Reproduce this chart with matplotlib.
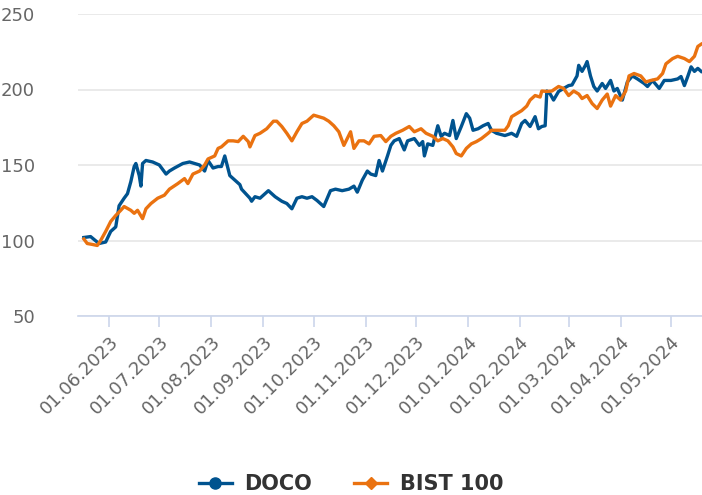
import matplotlib
matplotlib.use("Agg")
import matplotlib.pyplot as plt
import matplotlib.dates as mdates
from matplotlib.lines import Line2D
import pandas as pd

# ---- data (index, start = 100) ----
doco_dates = [
    "2023-05-17", "2023-05-21", "2023-05-26", "2023-05-30", "2023-06-02", "2023-06-05",
    "2023-06-07", "2023-06-10", "2023-06-12", "2023-06-14", "2023-06-16", "2023-06-17",
    "2023-06-19", "2023-06-20", "2023-06-21", "2023-06-23", "2023-06-27", "2023-07-01",
    "2023-07-05", "2023-07-07", "2023-07-10", "2023-07-15", "2023-07-19", "2023-07-22",
    "2023-07-25", "2023-07-28", "2023-07-30", "2023-08-02", "2023-08-05", "2023-08-07",
    "2023-08-09", "2023-08-12", "2023-08-15", "2023-08-18", "2023-08-19", "2023-08-24",
    "2023-08-25", "2023-08-27", "2023-08-30", "2023-09-04", "2023-09-08", "2023-09-12",
    "2023-09-15", "2023-09-18", "2023-09-21", "2023-09-24", "2023-09-27", "2023-09-30",
    "2023-10-03", "2023-10-07", "2023-10-11", "2023-10-14", "2023-10-18", "2023-10-22",
    "2023-10-25", "2023-10-27", "2023-10-30", "2023-11-02", "2023-11-04", "2023-11-07",
    "2023-11-09", "2023-11-11", "2023-11-14", "2023-11-16", "2023-11-18", "2023-11-21",
    "2023-11-24", "2023-11-26", "2023-11-30", "2023-12-03", "2023-12-05", "2023-12-06",
    "2023-12-08", "2023-12-11", "2023-12-14", "2023-12-16", "2023-12-18", "2023-12-21",
    "2023-12-23", "2023-12-25", "2023-12-28", "2023-12-31", "2024-01-02", "2024-01-04",
    "2024-01-07", "2024-01-10", "2024-01-13", "2024-01-15", "2024-01-18", "2024-01-23",
    "2024-01-27", "2024-01-30", "2024-02-02", "2024-02-04", "2024-02-07", "2024-02-10",
    "2024-02-12", "2024-02-14", "2024-02-16", "2024-02-17", "2024-02-19", "2024-02-21",
    "2024-02-24", "2024-02-27", "2024-03-01", "2024-03-03", "2024-03-06", "2024-03-07",
    "2024-03-09", "2024-03-11", "2024-03-12", "2024-03-14", "2024-03-16", "2024-03-18",
    "2024-03-21", "2024-03-23", "2024-03-26", "2024-03-28", "2024-03-30", "2024-04-02",
    "2024-04-05", "2024-04-08", "2024-04-11", "2024-04-15", "2024-04-17", "2024-04-20",
    "2024-04-24", "2024-04-27", "2024-05-01", "2024-05-05", "2024-05-07", "2024-05-09",
    "2024-05-11", "2024-05-13", "2024-05-15", "2024-05-17", "2024-05-19",
]
doco_vals = [
    102, 102.6, 98, 99, 106, 109,
    123, 128, 131, 139, 149, 151,
    143, 136, 151, 153, 152, 150,
    144, 146, 148, 151, 152, 151,
    150, 146, 153, 148, 149, 149,
    156, 143, 140, 137, 134, 128,
    126, 129, 128, 133, 129, 126,
    124.5, 121, 128, 129, 128, 129,
    126.5, 122.5, 133, 134, 133, 134,
    136, 132, 140, 146, 144, 143,
    153, 146, 156, 163, 166, 167.5,
    160, 166, 167.5, 163, 165.5, 156,
    164, 163, 176, 169, 171, 169.5,
    179.5, 167.5, 175.5, 184, 181, 173,
    174, 176, 177.5, 173, 171, 169.5,
    171, 169, 177.5, 179.5, 175.5, 182,
    174, 175.5, 176, 199, 197, 193,
    198.7, 200.7, 202.6, 203, 209, 216,
    212, 216, 218.5, 209, 202, 199,
    204, 200.7, 206, 199, 200.7, 193,
    205, 209, 207, 204, 202, 206,
    200.7, 206, 206, 207, 208.6, 202.6,
    208.6, 215, 212, 214, 212,
]

bist_dates = [
    "2023-05-17", "2023-05-19", "2023-05-22", "2023-05-25", "2023-05-27", "2023-05-30",
    "2023-06-02", "2023-06-05", "2023-06-08", "2023-06-10", "2023-06-14", "2023-06-16",
    "2023-06-18", "2023-06-21", "2023-06-23", "2023-06-26", "2023-06-30", "2023-07-04",
    "2023-07-07", "2023-07-12", "2023-07-16", "2023-07-18", "2023-07-21", "2023-07-25",
    "2023-07-28", "2023-07-30", "2023-08-03", "2023-08-05", "2023-08-07", "2023-08-11",
    "2023-08-14", "2023-08-17", "2023-08-20", "2023-08-23", "2023-08-24", "2023-08-27",
    "2023-08-30", "2023-09-03", "2023-09-07", "2023-09-09", "2023-09-12", "2023-09-15",
    "2023-09-18", "2023-09-21", "2023-09-24", "2023-09-27", "2023-10-01", "2023-10-04",
    "2023-10-07", "2023-10-10", "2023-10-13", "2023-10-16", "2023-10-19", "2023-10-23",
    "2023-10-25", "2023-10-28", "2023-10-31", "2023-11-03", "2023-11-06", "2023-11-10",
    "2023-11-13", "2023-11-16", "2023-11-19", "2023-11-23", "2023-11-27", "2023-11-30",
    "2023-12-04", "2023-12-07", "2023-12-11", "2023-12-14", "2023-12-17", "2023-12-20",
    "2023-12-23", "2023-12-25", "2023-12-28", "2023-12-31", "2024-01-03", "2024-01-06",
    "2024-01-09", "2024-01-13", "2024-01-15", "2024-01-18", "2024-01-23", "2024-01-25",
    "2024-01-27", "2024-01-30", "2024-02-02", "2024-02-05", "2024-02-07", "2024-02-10",
    "2024-02-13", "2024-02-14", "2024-02-17", "2024-02-20", "2024-02-24", "2024-02-27",
    "2024-03-01", "2024-03-04", "2024-03-07", "2024-03-09", "2024-03-12", "2024-03-15",
    "2024-03-18", "2024-03-21", "2024-03-24", "2024-03-26", "2024-03-29", "2024-04-01",
    "2024-04-04", "2024-04-06", "2024-04-09", "2024-04-13", "2024-04-16", "2024-04-19",
    "2024-04-23", "2024-04-26", "2024-04-28", "2024-05-02", "2024-05-05", "2024-05-09",
    "2024-05-12", "2024-05-15", "2024-05-17", "2024-05-19",
]
bist_vals = [
    101, 98, 97.4, 96.7, 100, 106,
    112.6, 116.6, 120, 122.5, 120, 118,
    120, 114.5, 121, 124.5, 128, 130,
    134, 137.7, 141, 137.7, 144, 146,
    150, 154, 156, 161, 162, 166,
    166, 165.5, 169, 165.5, 162, 169.5,
    171, 174, 179, 179, 175.5, 171,
    166, 172, 177.5, 179, 183, 182,
    181, 179, 176, 172, 163, 172,
    161, 166, 166, 164, 169, 169.5,
    165.5, 169, 171, 173, 175.5, 172,
    174, 171, 169, 166, 167.5, 166,
    162, 157.6, 156, 161, 164, 165.5,
    167.5, 171, 173, 173, 173, 176,
    182, 184, 186, 189, 193, 196,
    195, 199, 198.7, 199, 202, 200.7,
    196, 199, 197, 194, 196, 190.7,
    187.4, 193, 197, 189, 196, 193,
    199, 209, 210.6, 209, 205, 206,
    207, 210.6, 217, 220.5, 222, 220.5,
    218.5, 222, 228.5, 230,
]

series_names = ["DOCO", "BIST 100"]
tick_dates = ["2023-06-01", "2023-07-01", "2023-08-01", "2023-09-01", "2023-10-01",
              "2023-11-01", "2023-12-01", "2024-01-01", "2024-02-01", "2024-03-01",
              "2024-04-01", "2024-05-01"]
y_ticks = [50, 100, 150, 200, 250]

BLUE = "#00538f"
ORANGE = "#ea7210"
GRID = "#e6e6e6"
AXIS = "#ccd6eb"
TXT = "#666666"

fig = plt.figure(figsize=(7.02, 4.95), dpi=100)
ax = fig.add_axes([78 / 702, 1 - 316 / 495, 624 / 702, 302 / 495])

ax.plot(pd.to_datetime(doco_dates), doco_vals, color=BLUE, lw=2.4,
        solid_joinstyle="round", zorder=3)
ax.plot(pd.to_datetime(bist_dates), bist_vals, color=ORANGE, lw=2.4,
        solid_joinstyle="round", zorder=4)

ax.set_ylim(50, 250)
ax.set_xlim(pd.Timestamp("2023-05-13 12:00"), pd.Timestamp("2024-05-19 12:00"))
ax.set_yticks(y_ticks)
ax.set_xticks(pd.to_datetime(tick_dates))
ax.xaxis.set_major_formatter(mdates.DateFormatter("%d.%m.%Y"))

for s in ["top", "right", "left"]:
    ax.spines[s].set_visible(False)
ax.spines["bottom"].set_color(AXIS)
ax.spines["bottom"].set_linewidth(1.2)
ax.grid(axis="y", color=GRID, lw=1.2, zorder=0)
ax.set_axisbelow(True)

ax.tick_params(axis="y", length=0, pad=30, labelsize=13, labelcolor=TXT)
ax.tick_params(axis="x", length=8, width=1.2, color=AXIS, pad=4, labelsize=13,
               labelcolor=TXT)
for lab in ax.get_xticklabels():
    lab.set_rotation(45)
    lab.set_ha("right")
    lab.set_va("top")
    lab.set_rotation_mode("anchor")
for lab in ax.get_yticklabels():
    lab.set_ha("right")
ax.yaxis.set_tick_params(pad=31)

handles = [
    Line2D([], [], color=BLUE, lw=2.4, marker="o", markersize=8),
    Line2D([], [], color=ORANGE, lw=2.4, marker="D", markersize=6.5),
]
fig.legend(handles, series_names, loc="center", bbox_to_anchor=(0.5, 1 - 484 / 495),
           ncol=2, frameon=False, fontsize=15, handlelength=1.6, handletextpad=0.6,
           columnspacing=2.0, labelcolor="#333333", prop={"size": 15, "weight": "bold"})

fig.savefig("out.png", dpi=100, facecolor="white")
